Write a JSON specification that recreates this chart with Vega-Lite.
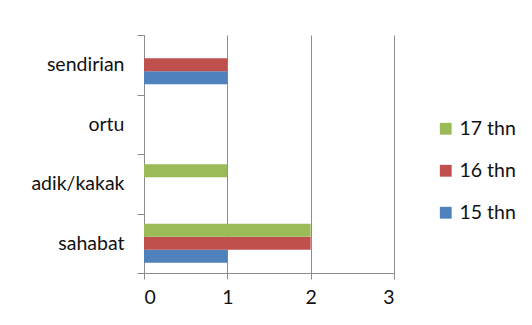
{
  "$schema": "https://vega.github.io/schema/vega-lite/v6.json",
  "autosize": {"type": "none"},
  "padding": {"left": 144, "top": 35, "right": 138, "bottom": 52},
  "width": 250,
  "height": 238,
  "background": "white",
  "config": {
    "view": {"stroke": null},
    "font": "Lato",
    "axis": {"labelFont": "Lato", "labelColor": "#111111", "labelFontSize": 19.5},
    "legend": {"labelFont": "Lato", "labelColor": "#111111", "labelFontSize": 19.5}
  },
  "data": {
    "values": [
      {"kategori": "sahabat", "usia": "15 thn", "jumlah": 1},
      {"kategori": "sahabat", "usia": "16 thn", "jumlah": 2},
      {"kategori": "sahabat", "usia": "17 thn", "jumlah": 2},
      {"kategori": "adik/kakak", "usia": "15 thn", "jumlah": 0},
      {"kategori": "adik/kakak", "usia": "16 thn", "jumlah": 0},
      {"kategori": "adik/kakak", "usia": "17 thn", "jumlah": 1},
      {"kategori": "ortu", "usia": "15 thn", "jumlah": 0},
      {"kategori": "ortu", "usia": "16 thn", "jumlah": 0},
      {"kategori": "ortu", "usia": "17 thn", "jumlah": 0},
      {"kategori": "sendirian", "usia": "15 thn", "jumlah": 1},
      {"kategori": "sendirian", "usia": "16 thn", "jumlah": 1},
      {"kategori": "sendirian", "usia": "17 thn", "jumlah": 0}
    ]
  },
  "mark": {"type": "bar", "orient": "horizontal"},
  "encoding": {
    "y": {
      "field": "kategori",
      "type": "nominal",
      "sort": ["sendirian", "ortu", "adik/kakak", "sahabat"],
      "scale": {"paddingInner": 0, "paddingOuter": 0},
      "axis": {
        "title": null,
        "tickBand": "extent",
        "tickSize": 7,
        "tickColor": "#8c8c8c",
        "domainColor": "#8c8c8c",
        "labelPadding": 13,
        "grid": false
      }
    },
    "yOffset": {
      "field": "usia",
      "type": "nominal",
      "sort": ["17 thn", "16 thn", "15 thn"],
      "scale": {"paddingInner": 0, "paddingOuter": 0.79}
    },
    "x": {
      "field": "jumlah",
      "type": "quantitative",
      "scale": {"domain": [0, 3], "nice": false},
      "axis": {
        "title": null,
        "values": [0, 1, 2, 3],
        "format": "d",
        "grid": true,
        "gridColor": "#8c8c8c",
        "gridOpacity": 1,
        "tickSize": 6,
        "tickColor": "#8c8c8c",
        "domainColor": "#8c8c8c",
        "labelPadding": 9
      }
    },
    "color": {
      "field": "usia",
      "type": "nominal",
      "scale": {
        "domain": ["17 thn", "16 thn", "15 thn"],
        "range": ["#9bbb59", "#c0504d", "#4f81bd"]
      },
      "legend": {
        "title": null,
        "orient": "none",
        "legendX": 292,
        "legendY": 84,
        "symbolType": "square",
        "symbolSize": 140,
        "symbolStrokeWidth": 0,
        "symbolOpacity": 1,
        "labelOffset": 4,
        "rowPadding": 21
      }
    }
  }
}
